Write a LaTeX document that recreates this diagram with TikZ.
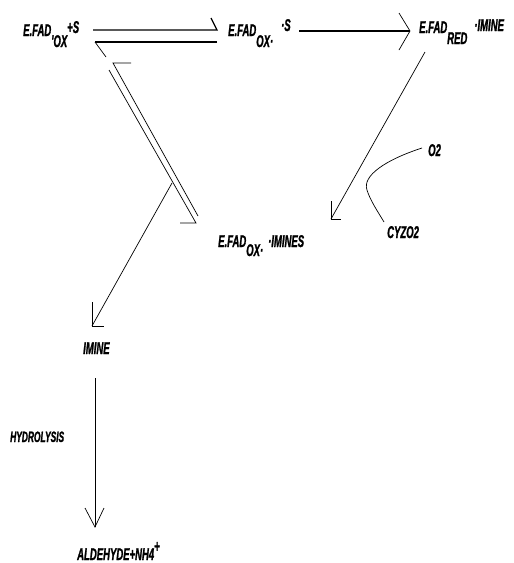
\documentclass[tikz,border=0pt]{standalone}
\usepackage{fontspec}
\newfontfamily\lbl[FakeStretch=0.56,FakeBold=1.2]{Liberation Sans}
\newcommand{\dn}[2]{\raisebox{#1pt}{#2}}
\begin{document}
\begin{tikzpicture}[x=1pt,y=-1pt,
  lab/.style={anchor=base west,inner sep=0pt,font=\lbl\bfseries\itshape\fontsize{17}{17}\selectfont},
  smalllab/.style={anchor=base west,inner sep=0pt,font=\lbl\bfseries\itshape\fontsize{15}{15}\selectfont},
  heavy/.style={line width=1.3pt,line cap=butt},
  fine/.style={line width=0.7pt}]
\useasboundingbox (0,0) rectangle (514,563);
% labels
\node[lab] (n1) at (23,36) {E.FAD\dn{-11}{'OX}\dn{3}{+S}};
\node[lab] (n2) at (228,36) {E.FAD\dn{-11}{OX·}\hspace{8pt}\dn{5}{·S}};
\node[lab] (n3) at (419,33) {E.FAD\dn{-11}{RED}\hspace{7pt}\dn{2}{·IMINE}};
\node[lab] (n4) at (218,247) {E.FAD\dn{-9}{OX·}\hspace{5pt}·IMINES};
\node[lab] (o2) at (428,156) {O2};
\node[lab] (cyz) at (387,238) {CYZO2};
\node[lab] (imine) at (83,354) {IMINE};
\node[smalllab] (hyd) at (10,442) {HYDROLYSIS};
\node[lab] (ald) at (77,560) {ALDEHYDE+NH4\dn{8}{+}};
% coordinates
\coordinate (t1a) at (93,30);
\coordinate (t1b) at (217,30);
\coordinate (t1c) at (211,18);
\coordinate (t2a) at (95,42);
\coordinate (t2b) at (217,42);
\coordinate (t2c) at (106,57);
\coordinate (dA1) at (113,63);
\coordinate (dA2) at (198,216);
\coordinate (dAb) at (131,63);
\coordinate (dB1) at (109,70);
\coordinate (dB2) at (196,223);
\coordinate (dBb) at (180,223);
\coordinate (a1s) at (172,183);
\coordinate (a1e) at (92,326);
\coordinate (a1b1) at (92,302);
\coordinate (a1b2) at (104,326);
\coordinate (a2s) at (299,31);
\coordinate (a2e) at (410,31);
\coordinate (a2b1) at (399,13);
\coordinate (a2b2) at (399,50);
\coordinate (a3s) at (425,52);
\coordinate (a3e) at (331,219);
\coordinate (a3b1) at (331,201);
\coordinate (a3b2) at (341,219);
\coordinate (a4s) at (95,378);
\coordinate (a4e) at (95,527);
\coordinate (a4b1) at (85,508);
\coordinate (a4b2) at (104,508);
\coordinate (c1) at (422,148);
\coordinate (c2) at (367,190);
\coordinate (c3) at (384,222);
% top equilibrium
\draw[heavy] (t1a) -- (t1b) -- (t1c);
\draw[heavy] (t2b) -- (t2a);
\draw[fine] (t2a) -- (t2c);
% diagonal equilibrium
\draw[fine] (dAb) -- (dA1) -- (dA2);
\draw[fine] (dB1) -- (dB2) -- (dBb);
% arrows
\draw[fine] (a1s) -- (a1e);
\draw[fine] (a1b1) -- (a1e) -- (a1b2);
\draw[heavy] (a2s) -- (a2e);
\draw[fine] (a2b1) -- (a2e) -- (a2b2);
\draw[fine] (a3s) -- (a3e);
\draw[fine] (a3b1) -- (a3e) -- (a3b2);
\draw[fine] (a4s) -- (a4e);
\draw[fine] (a4b1) -- (a4e) -- (a4b2);
% curve
\draw[fine] (c1) .. controls (385,160) and (362,176) .. (c2) .. controls (370,200) and (378,212) .. (c3);
\end{tikzpicture}
\end{document}
